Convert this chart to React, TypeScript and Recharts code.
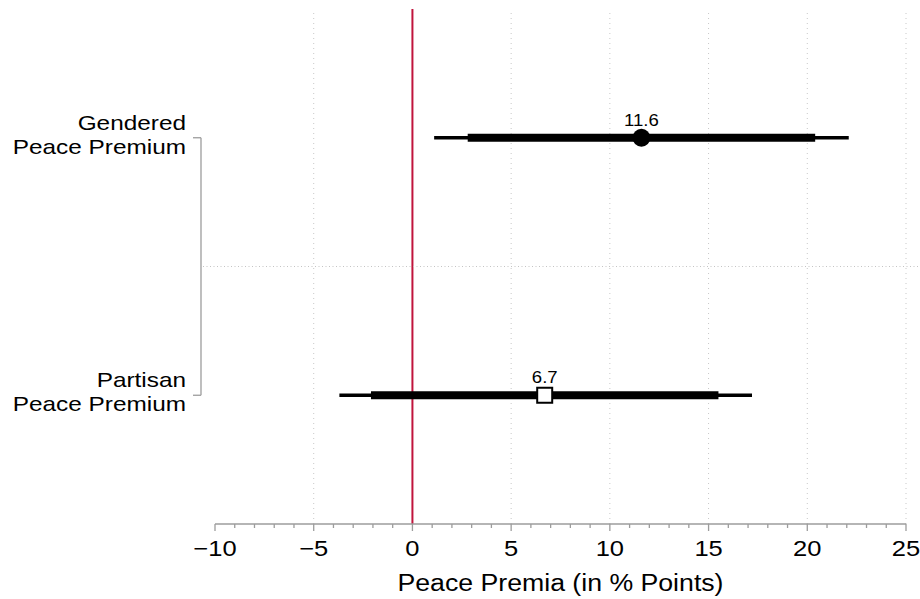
import React from 'react';
import { ScatterChart, Scatter, XAxis, YAxis, ReferenceLine, ErrorBar, LabelList } from 'recharts';

const categories = ['Gendered Peace Premium', 'Partisan Peace Premium'];
const labelLines = [['Gendered', 'Peace Premium'], ['Partisan', 'Peace Premium']];
const rowPositions = [3, 1];
const estimates = [11.6, 6.7];
const ci95Low = [1.1, -3.7];
const ci95High = [22.1, 17.2];
const ci90Low = [2.8, -2.1];
const ci90High = [20.4, 15.5];

const majorTicks = [-10, -5, 0, 5, 10, 15, 20, 25];
const gridTicks = [-5, 5, 10, 15, 20, 25];
const minorTicks: number[] = [];
for (let v = -10; v <= 25; v++) minorTicks.push(v);

const W = 920;
const H = 599;
const MARGIN = { top: 9, right: 14, bottom: 0, left: 0 };
const X_AXIS_H = 75;
const Y_AXIS_W = 215;
const PLOT_H = H - MARGIN.top - MARGIN.bottom - X_AXIS_H;
const Y_DOMAIN: [number, number] = [0, 4];
const ROW_SPAN = (PLOT_H * (Math.max(...rowPositions) - Math.min(...rowPositions))) / (Y_DOMAIN[1] - Y_DOMAIN[0]);

const FONT = '"Liberation Sans", Arial, Helvetica, sans-serif';
const AXIS_GRAY = '#9c9c9c';
const STRETCH = 1.16; // reference text is a bit wider than plain Helvetica

const rows = categories.map((name, i) => ({
  name,
  x: estimates[i],
  y: rowPositions[i],
  err95: [estimates[i] - ci95Low[i], ci95High[i] - estimates[i]],
  err90: [estimates[i] - ci90Low[i], ci90High[i] - estimates[i]],
}));

const fmt = (v: number) => (v < 0 ? `\u2212${Math.abs(v)}` : `${v}`);

function SText({ x, y, size, anchor = 'middle', children }: any) {
  return (
    <g transform={`translate(${x},${y}) scale(${STRETCH},1)`}>
      <text x={0} y={0} textAnchor={anchor} fontSize={size} fill="#000" fontFamily={FONT}>
        {children}
      </text>
    </g>
  );
}

function ValueTick(props: any) {
  const { x, y, payload } = props;
  const major = majorTicks.includes(payload.value);
  return (
    <g>
      <line x1={x} x2={x} y1={y} y2={y + (major ? 7 : 4)} stroke={AXIS_GRAY} strokeWidth={1.3} />
      {major && (
        <SText x={x} y={y + 32} size={22}>
          {fmt(payload.value)}
        </SText>
      )}
    </g>
  );
}

function RowTick(props: any) {
  const { x, y, payload } = props;
  const i = rowPositions.indexOf(payload.value);
  if (i < 0) return null;
  const isTop = payload.value === Math.max(...rowPositions);
  return (
    <g>
      <line x1={x - 22} x2={x - 14} y1={y} y2={y} stroke={AXIS_GRAY} strokeWidth={1.3} />
      {isTop && (
        <line x1={x - 14} x2={x - 14} y1={y} y2={y + ROW_SPAN} stroke={AXIS_GRAY} strokeWidth={1.3} />
      )}
      {isTop && (
        <line
          x1={x - 12}
          x2={W}
          y1={y + ROW_SPAN / 2}
          y2={y + ROW_SPAN / 2}
          stroke="#c4c4c4"
          strokeWidth={1}
          strokeDasharray="1 2.5"
        />
      )}
      <SText x={x - 29} y={y - 8} size={21} anchor="end">
        {labelLines[i][0]}
      </SText>
      <SText x={x - 29} y={y + 16} size={21} anchor="end">
        {labelLines[i][1]}
      </SText>
    </g>
  );
}

function AxisTitle(props: any) {
  const { viewBox } = props;
  if (!viewBox) return null;
  return (
    <SText x={viewBox.x + viewBox.width / 2} y={viewBox.y + viewBox.height - 8} size={23}>
      Peace Premia (in % Points)
    </SText>
  );
}

function ValueLabel(props: any) {
  const { x, y, width, height, value } = props;
  const cx = x + width / 2;
  const cy = y + height / 2;
  return (
    <SText x={cx} y={cy - 12} size={16}>
      {value}
    </SText>
  );
}

const circleShape = (p: any) => <circle cx={p.cx} cy={p.cy} r={9} fill="#000" />;
const squareShape = (p: any) => (
  <rect x={p.cx - 7.5} y={p.cy - 7.5} width={15} height={15} fill="#fff" stroke="#000" strokeWidth={2} />
);

export default function App() {
  return (
    <div style={{ position: 'absolute', left: 0, top: 0, width: W, height: H, background: '#fff' }}>
      <ScatterChart width={W} height={H} margin={MARGIN} style={{ fontFamily: FONT }}>
        <XAxis
          type="number"
          dataKey="x"
          domain={[-10, 25]}
          ticks={minorTicks}
          interval={0}
          allowDataOverflow
          height={X_AXIS_H}
          tickSize={0}
          tickMargin={0}
          tickLine={false}
          axisLine={{ stroke: AXIS_GRAY, strokeWidth: 1.3 }}
          tick={<ValueTick />}
          label={<AxisTitle />}
        />
        <YAxis
          type="number"
          dataKey="y"
          domain={Y_DOMAIN}
          ticks={rowPositions}
          interval={0}
          width={Y_AXIS_W}
          tickSize={0}
          tickMargin={0}
          tickLine={false}
          axisLine={false}
          tick={<RowTick />}
        />
        {gridTicks.map((v) => (
          <ReferenceLine key={v} x={v} stroke="#c8c8c8" strokeWidth={1} strokeDasharray="1 4" />
        ))}
        <ReferenceLine x={0} stroke="#c0143c" strokeWidth={2} />
        <Scatter data={[rows[0]]} shape={circleShape} isAnimationActive={false}>
          <ErrorBar dataKey="err95" direction="x" width={0} stroke="#000" strokeWidth={3.5} isAnimationActive={false} />
          <ErrorBar dataKey="err90" direction="x" width={0} stroke="#000" strokeWidth={8} isAnimationActive={false} />
          <LabelList dataKey="x" content={<ValueLabel />} />
        </Scatter>
        <Scatter data={[rows[1]]} shape={squareShape} isAnimationActive={false}>
          <ErrorBar dataKey="err95" direction="x" width={0} stroke="#000" strokeWidth={3.5} isAnimationActive={false} />
          <ErrorBar dataKey="err90" direction="x" width={0} stroke="#000" strokeWidth={8} isAnimationActive={false} />
          <LabelList dataKey="x" content={<ValueLabel />} />
        </Scatter>
      </ScatterChart>
    </div>
  );
}
